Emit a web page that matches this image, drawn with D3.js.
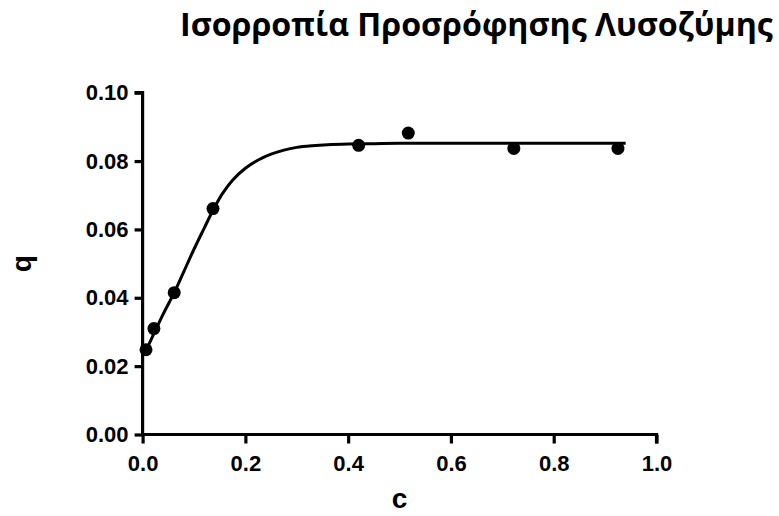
<html>
<head>
	<meta charset="utf-8">
	<script src="https://cdn.jsdelivr.net/npm/d3@7"></script>
</head>
<body style="margin:0; padding:0; background:#fff;">
	<script>
	// measured points (c, q)
	var cData = [0.0066, 0.022, 0.0615, 0.137, 0.4204, 0.517, 0.7224, 0.925];
	var qData = [0.0248, 0.031, 0.0415, 0.0661, 0.0846, 0.0882, 0.0837, 0.0837];

	// fitted curve
	var cFit = [0, 0.0066, 0.022, 0.04, 0.0615, 0.08, 0.1, 0.12, 0.137, 0.155, 0.175, 0.2, 0.225, 0.25, 0.275, 0.3, 0.33, 0.36, 0.4, 0.45, 0.5, 0.6, 0.7, 0.8, 0.94];
	var qFit = [0.0235, 0.0248, 0.0295, 0.0352, 0.0415, 0.0476, 0.0542, 0.0604, 0.0656, 0.0704, 0.0744, 0.0779, 0.0803, 0.0820, 0.0832, 0.0840, 0.0845, 0.0848, 0.0850, 0.0851, 0.0852, 0.0852, 0.0852, 0.0852, 0.0852];

	var xTicks = [0, 0.2, 0.4, 0.6, 0.8, 1.0];
	var yTicks = [0, 0.02, 0.04, 0.06, 0.08, 0.10];

	var title = "Ισορροπία Προσρόφησης Λυσοζύμης";

	var width = 779, height = 516;
	var svg = d3.select("body").append("svg")
		.attr("width", width)
		.attr("height", height);

	var x = d3.scaleLinear().domain([0, 1]).range([142.6, 656.5]);
	var y = d3.scaleLinear().domain([0, 0.1]).range([434.5, 92.7]);

	var axisFont = "'Liberation Sans', Arial, sans-serif";

	// x axis
	var xAxis = svg.append("g")
		.attr("transform", "translate(0," + y(0) + ")")
		.call(d3.axisBottom(x).tickValues(xTicks).tickSize(9).tickPadding(12).tickFormat(d3.format(".1f")));
	// y axis
	var yAxis = svg.append("g")
		.attr("transform", "translate(" + x(0) + ",0)")
		.call(d3.axisLeft(y).tickValues(yTicks).tickSize(8).tickPadding(6).tickFormat(d3.format(".2f")));

	[xAxis, yAxis].forEach(function(a) {
		a.select(".domain").attr("stroke", "#000").attr("stroke-width", 3.2);
		a.selectAll(".tick line").attr("stroke", "#000").attr("stroke-width", 3.2);
		a.selectAll(".tick text")
			.attr("fill", "#000")
			.style("font-family", axisFont)
			.style("font-weight", "bold")
			.style("font-size", "22px");
	});
	xAxis.select(".domain").attr("d", "M" + x(0) + ",0H" + x(1) + "V9");
	yAxis.select(".domain").attr("d", "M0," + y(0) + "V" + y(0.1) + "H-8");

	// fitted line
	var line = d3.line()
		.x(function(d) { return x(d[0]); })
		.y(function(d) { return y(d[1]); })
		.curve(d3.curveCatmullRom.alpha(0.5));

	svg.append("path")
		.datum(cFit.map(function(c, i) { return [c, qFit[i]]; }))
		.attr("d", line)
		.attr("fill", "none")
		.attr("stroke", "#000")
		.attr("stroke-width", 3);

	// points
	svg.selectAll("circle.pt")
		.data(cData.map(function(c, i) { return [c, qData[i]]; }))
		.enter().append("circle")
		.attr("class", "pt")
		.attr("cx", function(d) { return x(d[0]); })
		.attr("cy", function(d) { return y(d[1]); })
		.attr("r", 6.5)
		.attr("fill", "#000");

	// axis titles
	svg.append("text")
		.attr("x", (x(0) + x(1)) / 2)
		.attr("y", 508)
		.attr("text-anchor", "middle")
		.style("font-family", axisFont)
		.style("font-weight", "bold")
		.style("font-size", "28px")
		.text("c");

	svg.append("text")
		.attr("transform", "translate(31," + ((y(0) + y(0.1)) / 2) + ") rotate(-90)")
		.attr("text-anchor", "middle")
		.style("font-family", axisFont)
		.style("font-weight", "bold")
		.style("font-size", "28px")
		.text("q");

	// title, sized to span the measured width
	var t = svg.append("text")
		.attr("x", 180)
		.attr("y", 36)
		.style("font-family", "'Open Sans', 'Noto Sans', sans-serif")
		.style("font-weight", "bold")
		.style("font-size", "30px")
		.text(title);
	var w = t.node().getComputedTextLength();
	t.style("font-size", (30 * 593 / w) + "px");
	</script>
</body>
</html>
